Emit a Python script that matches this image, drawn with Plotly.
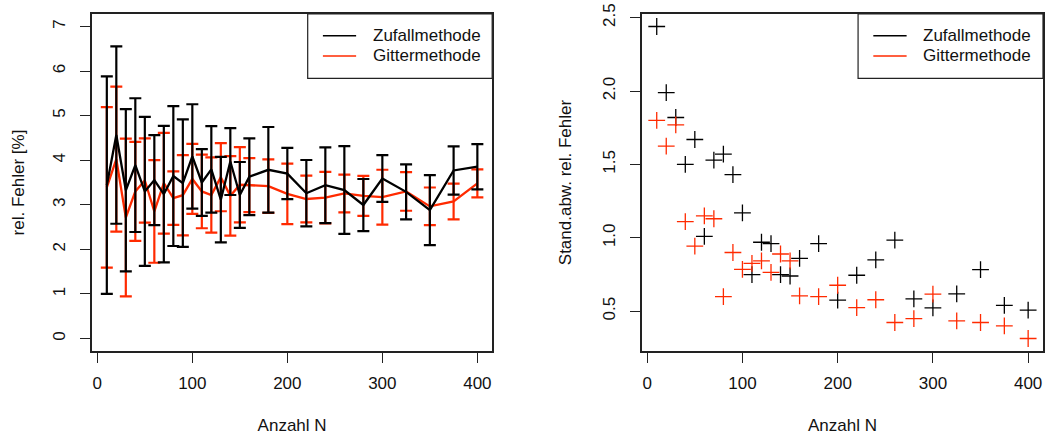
import plotly.graph_objects as go

# Stichprobengrößen
anzahl_n = [10, 20, 30, 40, 50, 60, 70, 80, 90, 100, 110, 120, 130, 140, 150, 160,
            180, 200, 220, 240, 260, 280, 300, 325, 350, 375, 400]

# mittlerer relativer Fehler [%]
fehler_zufall = [3.44, 4.565, 3.325, 3.89, 3.30, 3.555, 3.24, 3.645, 3.485, 4.085, 3.50, 3.795,
                 3.115, 3.97, 3.22, 3.63, 3.785, 3.70, 3.26, 3.44, 3.33, 2.995, 3.59, 3.29,
                 2.88, 3.77, 3.855]
fehler_gitter = [3.39, 4.025, 2.715, 3.30, 3.545, 2.85, 3.485, 3.15, 3.215, 3.58, 3.30, 3.22,
                 3.62, 3.20, 3.45, 3.44, 3.42, 3.245, 3.13, 3.16, 3.255, 3.20, 3.17, 3.30,
                 2.965, 3.075, 3.48]

# Standardabweichung des relativen Fehlers
sd_zufall = [2.44, 1.99, 1.82, 1.50, 1.67, 1.01, 1.53, 1.57, 1.43, 1.17, 0.75, 0.97, 0.96,
             0.75, 0.74, 0.86, 0.96, 0.575, 0.745, 0.85, 0.984, 0.584, 0.523, 0.618, 0.784,
             0.54, 0.507]
sd_gitter = [1.80, 1.625, 1.77, 1.11, 0.944, 1.15, 1.13, 0.60, 0.90, 0.785, 0.826, 0.843,
             0.765, 0.89, 0.843, 0.605, 0.60, 0.677, 0.525, 0.578, 0.423, 0.45, 0.616, 0.434,
             0.423, 0.40, 0.314]

serien = ["Zufallmethode", "Gittermethode"]
farben = ["#000000", "#ff2a00"]

x_ticks = [0, 100, 200, 300, 400]
y_ticks_links = [0, 1, 2, 3, 4, 5, 6, 7]
y_ticks_rechts = [0.5, 1.0, 1.5, 2.0, 2.5]

FONT = "Liberation Sans, Arial, Helvetica, sans-serif"
FS = 17


def r_range(lo, hi):
    pad = 0.04 * (hi - lo)
    return [lo - pad, hi + pad]


fig = go.Figure()

# linkes Diagramm: Mittelwert mit Fehlerbalken (± Standardabweichung)
for name, farbe, y, sd in [(serien[1], farben[1], fehler_gitter, sd_gitter),
                           (serien[0], farben[0], fehler_zufall, sd_zufall)]:
    fig.add_trace(go.Scatter(
        x=anzahl_n, y=y, mode="lines", name=name,
        line=dict(color=farbe, width=2.3),
        error_y=dict(type="data", array=sd, visible=True, color=farbe,
                     thickness=2.2, width=6),
        xaxis="x", yaxis="y", showlegend=False,
    ))

# rechtes Diagramm: Standardabweichung
for name, farbe, sd in [(serien[0], farben[0], sd_zufall),
                        (serien[1], farben[1], sd_gitter)]:
    fig.add_trace(go.Scatter(
        x=anzahl_n, y=sd, mode="markers", name=name,
        marker=dict(symbol="cross-thin", size=12, line=dict(color=farbe, width=1.3)),
        xaxis="x2", yaxis="y2", showlegend=False,
    ))

achse = dict(
    showline=True, mirror=True, linecolor="#222222", linewidth=1.5,
    ticks="outside", ticklen=10, tickwidth=1.2, tickcolor="#222222",
    showgrid=False, zeroline=False,
    tickfont=dict(family=FONT, size=FS, color="#111111"),
    title_font=dict(family=FONT, size=FS, color="#111111"),
)

x_range = r_range(min(anzahl_n), max(anzahl_n))
y2_range = r_range(min(sd_zufall + sd_gitter), max(sd_zufall + sd_gitter))

fig.update_layout(
    width=1046, height=437,
    margin=dict(l=92, r=1, t=14, b=86),
    paper_bgcolor="white", plot_bgcolor="white",
    font=dict(family=FONT, size=FS, color="#111111"),
    xaxis=dict(achse, domain=[0, 0.4208], range=x_range, tickvals=x_ticks,
               ticklabelstandoff=6,
               title=dict(text="Anzahl N", standoff=27), anchor="y"),
    yaxis=dict(achse, domain=[0, 1], range=r_range(0, 7), tickvals=y_ticks_links,
               tickangle=-90, ticklabelstandoff=8,
               title=dict(text="rel. Fehler [%]", standoff=22), anchor="x"),
    xaxis2=dict(achse, domain=[0.5782, 1], range=x_range, tickvals=x_ticks,
                ticklabelstandoff=6,
                title=dict(text="Anzahl N", standoff=27), anchor="y2"),
    yaxis2=dict(achse, domain=[0, 1], range=y2_range, tickvals=y_ticks_rechts,
                tickformat=".1f", tickangle=-90, ticklabelstandoff=8,
                title=dict(text="Stand.abw. rel. Fehler", standoff=24), anchor="x2"),
)

# Legenden im Stil von R: Rahmen oben rechts, Linien mit Beschriftung
shapes = []
annotations = []
for xr, yr in [("x domain", "y domain"), ("x2 domain", "y2 domain")]:
    shapes.append(dict(type="rect", xref=xr, yref=yr, x0=0.539, x1=1.0, y0=0.809, y1=1.0,
                       line=dict(color="#222222", width=1.2), fillcolor="white"))
    for i, (name, farbe) in enumerate(zip(serien, farben)):
        yy = 0.9356 - i * 0.0602
        shapes.append(dict(type="line", xref=xr, yref=yr, x0=0.577, x1=0.660, y0=yy, y1=yy,
                           line=dict(color=farbe, width=1.4)))
        annotations.append(dict(xref=xr, yref=yr, x=0.697, y=yy, text=name,
                                showarrow=False, xanchor="left", yanchor="middle",
                                font=dict(family=FONT, size=FS, color="#111111")))
fig.update_layout(shapes=shapes, annotations=annotations)

fig.write_html("out.html")
